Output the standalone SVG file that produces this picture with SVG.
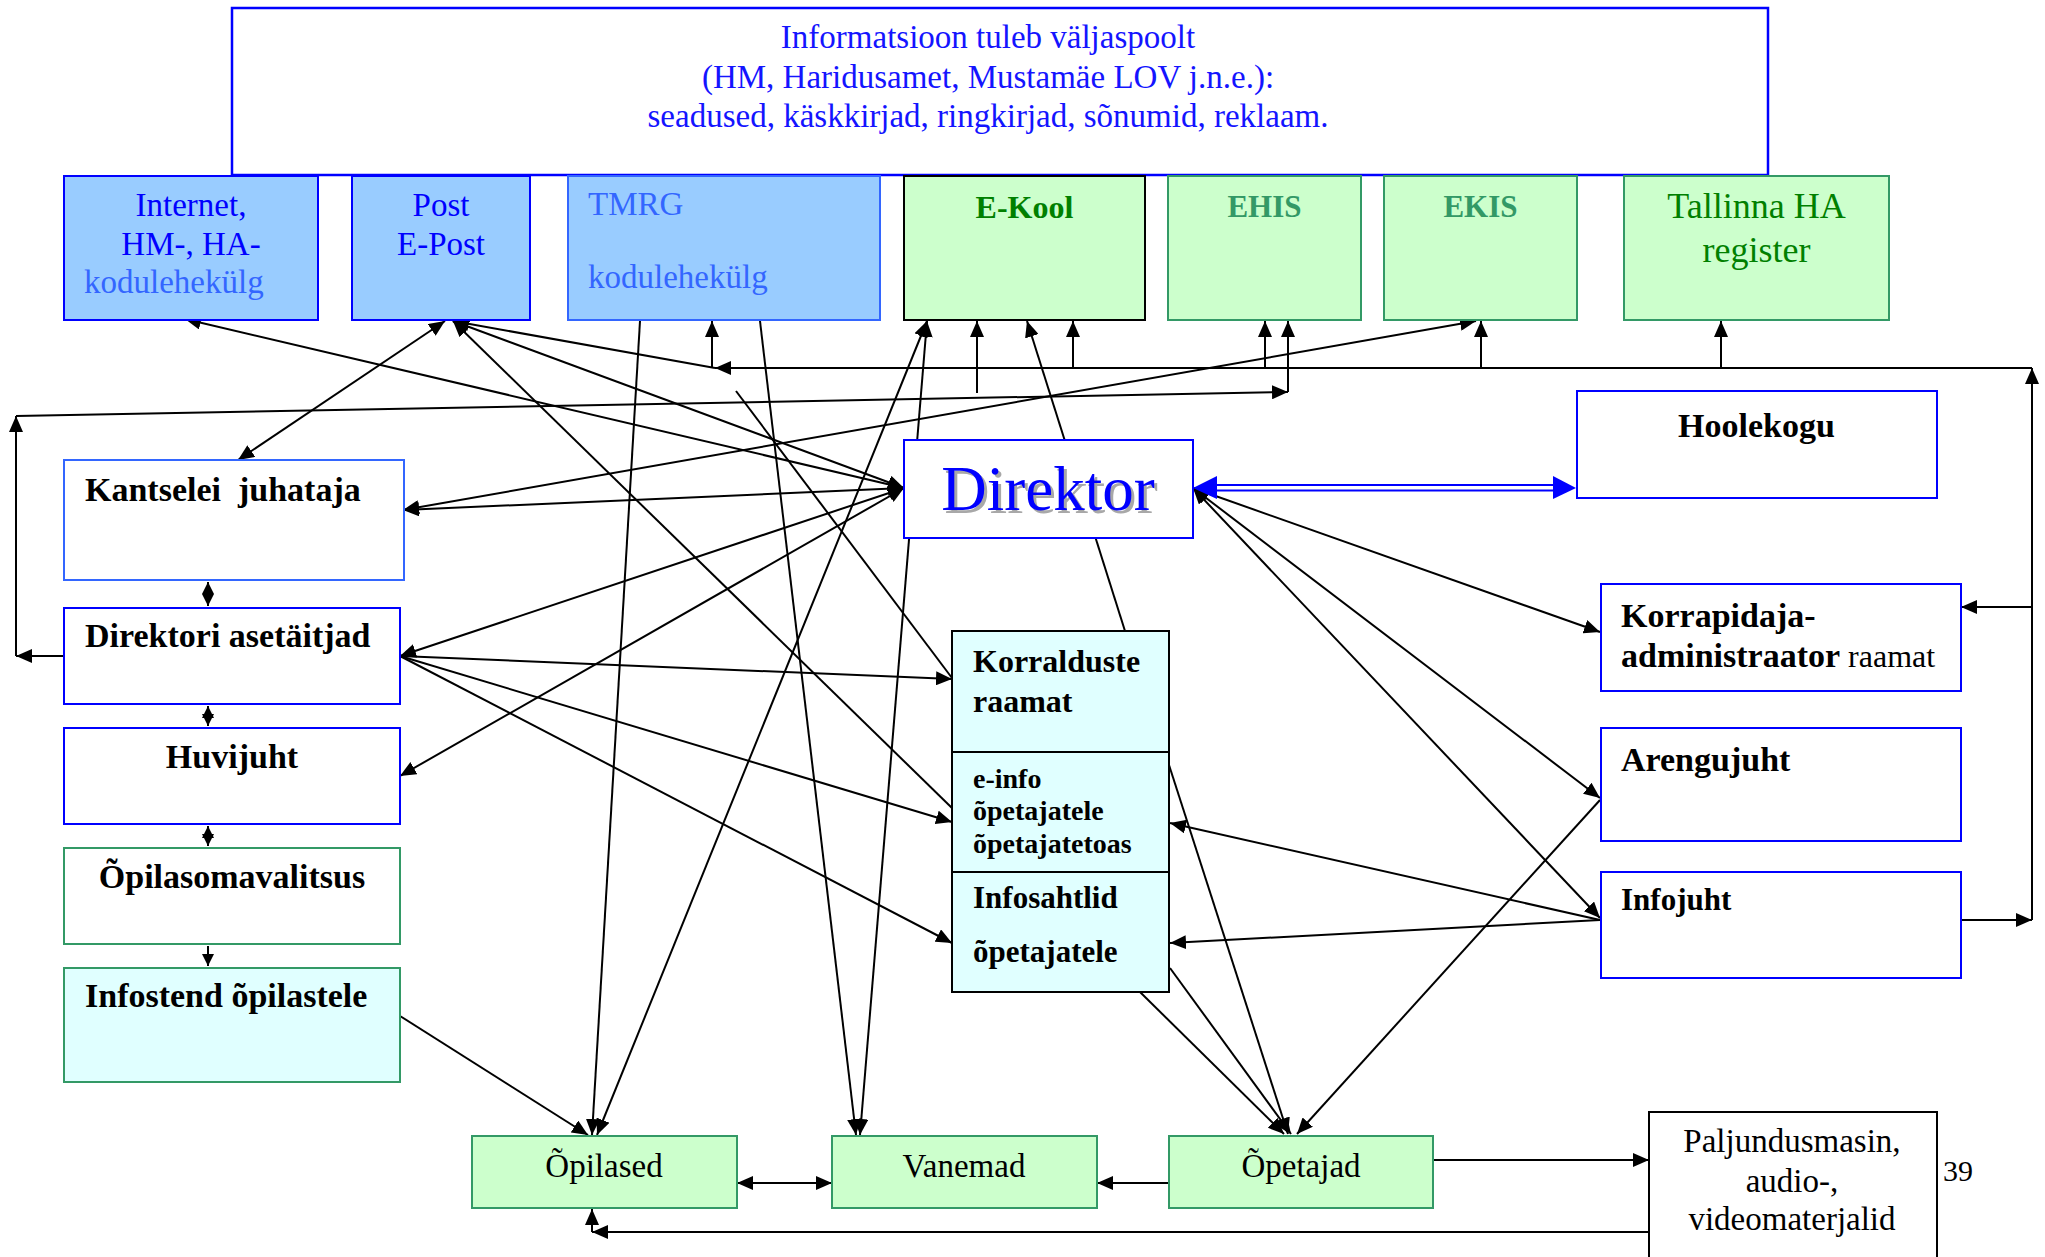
<svg xmlns="http://www.w3.org/2000/svg" width="2045" height="1257" viewBox="0 0 2045 1257">
<defs>
<style>
text{font-family:"Liberation Serif","Times New Roman",serif;}
.c{stroke:#000;stroke-width:2;fill:none;}
.e{marker-end:url(#ah);}
.s{marker-start:url(#ah);}
.se{marker-end:url(#ahs);}
.ss{marker-start:url(#ahs);}
.bx{stroke-width:2;}
.blue{fill:#99CCFF;stroke:#0000FF;}
.grn{fill:#CCFFCC;stroke:#339966;}
.cy{fill:#E0FFFF;}
.wb{fill:#fff;stroke:#0000FF;}
.b{font-weight:bold;}
.t33{font-size:33px;}
.b34{font-size:34px;font-weight:bold;fill:#000;}
</style>
<marker id="ah" markerUnits="userSpaceOnUse" markerWidth="16" markerHeight="14" refX="16" refY="7" orient="auto-start-reverse"><path d="M0,0 L16,7 L0,14 z" fill="#000"/></marker>
<marker id="ahs" markerUnits="userSpaceOnUse" markerWidth="12" markerHeight="12" refX="12" refY="6" orient="auto-start-reverse"><path d="M0,0 L12,6 L0,12 z" fill="#000"/></marker>
</defs>
<rect width="2045" height="1257" fill="#fff"/>

<g id="valine">
<rect x="232" y="8" width="1536" height="167" fill="#fff" stroke="#0000FF" stroke-width="2.5"/>
<text x="988" y="48" text-anchor="middle" class="t33" fill="#1414FF">Informatsioon tuleb väljaspoolt</text>
<text x="988" y="88" text-anchor="middle" class="t33" fill="#1414FF">(HM, Haridusamet, Mustamäe LOV j.n.e.):</text>
<text x="988" y="127" text-anchor="middle" class="t33" fill="#1414FF">seadused, käskkirjad, ringkirjad, sõnumid, reklaam.</text>
</g>

<g id="connectors">
<line class="c s e" x1="185" y1="319" x2="904" y2="488"/>
<line class="c s e" x1="445" y1="321" x2="238" y2="460"/>
<line class="c s" x1="453" y1="321" x2="715" y2="368"/>
<line class="c s e" x1="453" y1="321" x2="904" y2="488"/>
<line class="c s" x1="453" y1="321" x2="952" y2="808"/>
<line class="c e" x1="640" y1="321" x2="592" y2="1135"/>
<line class="c e" x1="760" y1="321" x2="856" y2="1135"/>
<line class="c s e" x1="927" y1="321" x2="597" y2="1135"/>
<line class="c s e" x1="927" y1="321" x2="860" y2="1135"/>
<line class="c e" x1="1125" y1="631" x2="1027" y2="321"/>
<line class="c s e" x1="403" y1="510" x2="1476" y2="321"/>
<line class="c s e" x1="904" y1="488" x2="403" y2="510"/>
<line class="c s e" x1="904" y1="488" x2="400" y2="656"/>
<line class="c s e" x1="904" y1="488" x2="400" y2="776"/>
<line class="c e" x1="400" y1="656" x2="952" y2="679"/>
<line class="c e" x1="400" y1="656" x2="952" y2="822"/>
<line class="c e" x1="400" y1="656" x2="952" y2="943"/>
<line class="c" x1="736" y1="391" x2="952" y2="678"/>
<line class="c s e" x1="1193" y1="488" x2="1600" y2="632"/>
<line class="c s e" x1="1193" y1="488" x2="1600" y2="798"/>
<line class="c s e" x1="1193" y1="488" x2="1600" y2="918"/>
<line class="c e" x1="1600" y1="920" x2="1170" y2="823"/>
<line class="c e" x1="1600" y1="920" x2="1170" y2="943"/>
<line class="c e" x1="1600" y1="800" x2="1297" y2="1134"/>
<line class="c e" x1="1169" y1="765" x2="1288" y2="1134"/>
<line class="c e" x1="1170" y1="968" x2="1291" y2="1134"/>
<line class="c e" x1="1140" y1="992" x2="1284" y2="1134"/>
<line class="c e" x1="400" y1="1016" x2="588" y2="1135"/>
<line class="c s e" x1="737" y1="1183" x2="832" y2="1183"/>
<line class="c e" x1="1169" y1="1183" x2="1097" y2="1183"/>
<line class="c e" x1="1433" y1="1160" x2="1649" y2="1160"/>
<line class="c e" x1="1649" y1="1232" x2="592" y2="1232"/>
<line class="c e" x1="592" y1="1232" x2="592" y2="1209"/>
<line class="c e" x1="2032" y1="368" x2="715" y2="368"/>
<line class="c e" x1="712" y1="368" x2="712" y2="321"/>
<line class="c e" x1="1073" y1="368" x2="1073" y2="321"/>
<line class="c e" x1="1265" y1="368" x2="1265" y2="321"/>
<line class="c e" x1="1481" y1="368" x2="1481" y2="321"/>
<line class="c e" x1="1721" y1="368" x2="1721" y2="321"/>
<line class="c e" x1="977" y1="393" x2="977" y2="321"/>
<line class="c e" x1="64" y1="656" x2="16" y2="656"/>
<line class="c e" x1="16" y1="656" x2="16" y2="416"/>
<line class="c e" x1="16" y1="416" x2="1288" y2="392"/>
<line class="c e" x1="1288" y1="392" x2="1288" y2="321"/>
<line class="c e" x1="1961" y1="920" x2="2032" y2="920"/>
<line class="c e" x1="2032" y1="920" x2="2032" y2="368"/>
<line class="c e" x1="2032" y1="607" x2="1961" y2="607"/>
<line class="c ss se" x1="208" y1="582" x2="208" y2="606"/>
<line class="c ss se" x1="208" y1="706" x2="208" y2="726"/>
<line class="c ss se" x1="208" y1="826" x2="208" y2="846"/>
<line class="c se" x1="208" y1="946" x2="208" y2="966"/>
<g id="hoolekogu-link" fill="#0000FF">
<line x1="1214" y1="485" x2="1556" y2="485" stroke="#0000FF" stroke-width="2"/>
<line x1="1214" y1="490.5" x2="1556" y2="490.5" stroke="#0000FF" stroke-width="2"/>
<polygon points="1193,488 1217,476 1217,499"/>
<polygon points="1576,488 1553,476 1553,499"/>
</g>
</g>

<g id="internet">
<rect class="bx blue" x="64" y="176" width="254" height="144"/>
<text x="191" y="216" text-anchor="middle" class="t33" fill="#0000FF">Internet,</text>
<text x="191" y="255" text-anchor="middle" class="t33" fill="#0000FF">HM-, HA-</text>
<text x="84" y="293" class="t33" fill="#3366FF">kodulehekülg</text>
</g>
<g id="post">
<rect class="bx blue" x="352" y="176" width="178" height="144"/>
<text x="441" y="216" text-anchor="middle" class="t33" fill="#0000FF">Post</text>
<text x="441" y="255" text-anchor="middle" class="t33" fill="#0000FF">E-Post</text>
</g>
<g id="tmrg">
<rect class="bx" x="568" y="176" width="312" height="144" fill="#99CCFF" stroke="#3366FF"/>
<text x="588" y="215" class="t33" fill="#3366FF">TMRG</text>
<text x="588" y="288" class="t33" fill="#3366FF">kodulehekülg</text>
</g>
<g id="ekool">
<rect class="bx" x="904" y="176" width="241" height="144" fill="#CCFFCC" stroke="#000"/>
<text x="1024.5" y="218" text-anchor="middle" class="b" font-size="32" fill="#008000">E-Kool</text>
</g>
<g id="ehis">
<rect class="bx grn" x="1168" y="176" width="193" height="144"/>
<text x="1264.5" y="217" text-anchor="middle" class="b" font-size="31" fill="#339966">EHIS</text>
</g>
<g id="ekis">
<rect class="bx grn" x="1384" y="176" width="193" height="144"/>
<text x="1480.5" y="217" text-anchor="middle" class="b" font-size="31" fill="#339966">EKIS</text>
</g>
<g id="tallinna">
<rect class="bx grn" x="1624" y="176" width="265" height="144"/>
<text x="1756.5" y="218" text-anchor="middle" font-size="36" fill="#008000">Tallinna HA</text>
<text x="1756.5" y="262" text-anchor="middle" font-size="36" fill="#008000">register</text>
</g>

<g id="direktor">
<rect class="bx wb" x="904" y="440" width="289" height="98"/>
<text x="1051" y="513" text-anchor="middle" font-size="63" fill="#A8A8A8">Direktor</text>
<text x="1048" y="510" text-anchor="middle" font-size="63" fill="#0000FF">Direktor</text>
</g>
<g id="hoolekogu">
<rect class="bx wb" x="1577" y="391" width="360" height="107"/>
<text x="1756.5" y="437" text-anchor="middle" class="b34" font-size="35">Hoolekogu</text>
</g>
<g id="kantselei">
<rect class="bx" x="64" y="460" width="340" height="120" fill="#fff" stroke="#3366FF"/>
<text x="85" y="501" class="b34" font-size="32" xml:space="preserve">Kantselei  juhataja</text>
</g>
<g id="asetaitjad">
<rect class="bx wb" x="64" y="608" width="336" height="96"/>
<text x="85" y="647" class="b34">Direktori asetäitjad</text>
</g>
<g id="huvijuht">
<rect class="bx wb" x="64" y="728" width="336" height="96"/>
<text x="232" y="768" text-anchor="middle" class="b34">Huvijuht</text>
</g>
<g id="opilasomavalitsus">
<rect class="bx" x="64" y="848" width="336" height="96" fill="#fff" stroke="#339966"/>
<text x="232" y="888" text-anchor="middle" class="b34">Õpilasomavalitsus</text>
</g>
<g id="infostend">
<rect class="bx cy" x="64" y="968" width="336" height="114" stroke="#339966"/>
<text x="85" y="1007" class="b34">Infostend õpilastele</text>
</g>

<g id="korralduste">
<rect class="bx cy" x="952" y="631" width="217" height="121" stroke="#000"/>
<text x="973" y="672" class="b" font-size="32">Korralduste</text>
<text x="973" y="712" class="b" font-size="32">raamat</text>
</g>
<g id="einfo">
<rect class="bx cy" x="952" y="752" width="217" height="120" stroke="#000"/>
<text x="973" y="788" class="b" font-size="28">e-info</text>
<text x="973" y="820" class="b" font-size="28">õpetajatele</text>
<text x="973" y="853" class="b" font-size="28">õpetajatetoas</text>
</g>
<g id="infosahtlid">
<rect class="bx cy" x="952" y="872" width="217" height="120" stroke="#000"/>
<text x="973" y="908" class="b" font-size="31">Infosahtlid</text>
<text x="973" y="962" class="b" font-size="31">õpetajatele</text>
</g>

<g id="korrapidaja">
<rect class="bx wb" x="1601" y="584" width="360" height="107"/>
<text x="1621" y="627" class="b34">Korrapidaja-</text>
<text x="1621" y="667" font-size="32"><tspan class="b" font-size="34">administraator</tspan> raamat</text>
</g>
<g id="arengujuht">
<rect class="bx wb" x="1601" y="728" width="360" height="113"/>
<text x="1621" y="771" class="b34">Arengujuht</text>
</g>
<g id="infojuht">
<rect class="bx wb" x="1601" y="872" width="360" height="106"/>
<text x="1621" y="910" class="b" font-size="31">Infojuht</text>
</g>

<g id="opilased">
<rect class="bx grn" x="472" y="1136" width="265" height="72"/>
<text x="604" y="1177" text-anchor="middle" class="t33" fill="#000">Õpilased</text>
</g>
<g id="vanemad">
<rect class="bx grn" x="832" y="1136" width="265" height="72"/>
<text x="964" y="1177" text-anchor="middle" class="t33" fill="#000">Vanemad</text>
</g>
<g id="opetajad">
<rect class="bx grn" x="1169" y="1136" width="264" height="72"/>
<text x="1301" y="1177" text-anchor="middle" class="t33" fill="#000">Õpetajad</text>
</g>
<g id="paljundusmasin">
<rect class="bx" x="1649" y="1112" width="288" height="160" fill="#fff" stroke="#000"/>
<text x="1792" y="1152" text-anchor="middle" class="t33" fill="#000">Paljundusmasin,</text>
<text x="1792" y="1192" text-anchor="middle" class="t33" fill="#000">audio-,</text>
<text x="1792" y="1230" text-anchor="middle" class="t33" fill="#000">videomaterjalid</text>
</g>
<text x="1943" y="1181" font-size="30" fill="#000">39</text>
</svg>
